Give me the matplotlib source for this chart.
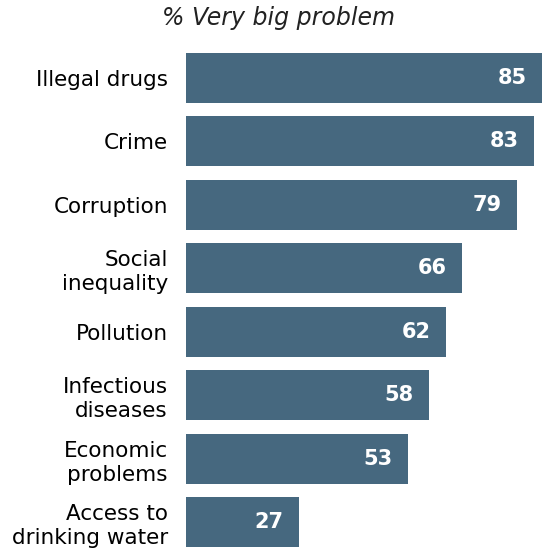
import matplotlib.pyplot as plt

categories = ['Illegal drugs', 'Crime', 'Corruption', 'Social\ninequality', 'Pollution',
              'Infectious\ndiseases', 'Economic\nproblems', 'Access to\ndrinking water']
values = [85, 83, 79, 66, 62, 58, 53, 27]

bar_colour = '#46687f'

fig = plt.figure(figsize=(5.42, 5.5), dpi=100)
ax = fig.add_axes([186 / 542, 0, 1 - 186 / 542, 1 - 46 / 550])

pos = list(range(len(categories)))
ax.barh(pos, values, height=0.79, color=bar_colour)
ax.set_xlim(0, 85)
ax.set_ylim(7.44, -0.5)

for p, v in zip(pos, values):
    ax.annotate(str(v), xy=(v, p), xytext=(-11, 0), textcoords='offset points',
                ha='right', va='center', color='white', fontsize=15, fontweight='bold')

ax.set_yticks(pos)
ax.set_yticklabels(categories, fontsize=15.5, ha='right', linespacing=1.25)
ax.tick_params(axis='y', length=0, pad=13)
ax.set_xticks([])
for s in ax.spines.values():
    s.set_visible(False)

fig.text(279 / 542, 1 - 18 / 550, '% Very big problem', ha='center', va='center',
         fontsize=17, style='italic', color='#222222')

fig.savefig('out.png', dpi=100)
